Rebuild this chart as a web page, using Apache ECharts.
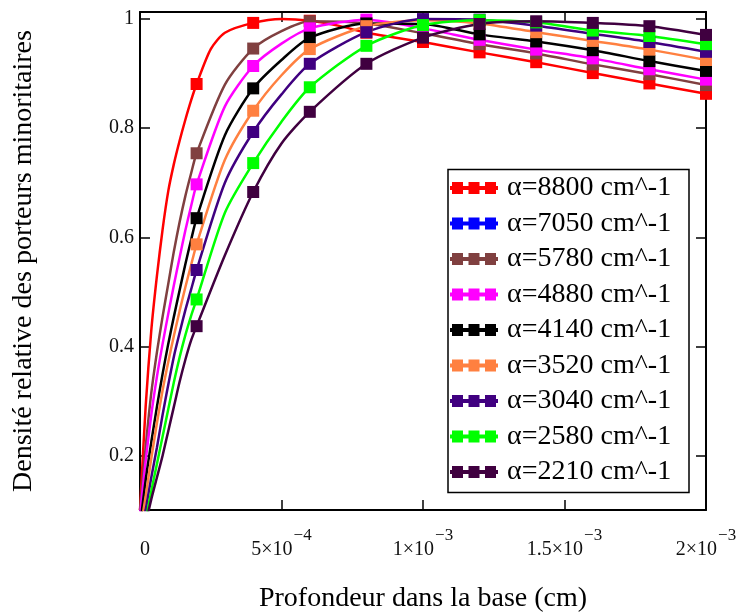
<!DOCTYPE html>
<html>
<head>
<meta charset="utf-8">
<script src="https://cdn.jsdelivr.net/npm/echarts@6/dist/echarts.min.js"></script>
<style>
  html, body { margin: 0; padding: 0; background: #fff; }
  #chart { width: 744px; height: 612px; }
</style>
</head>
<body>
<div id="chart"></div>
<script>
// ---------- data ----------
const xTickValues = [0, 0.0005, 0.001, 0.0015, 0.002];
const xTickLabels = ['0', '5×10^−4', '1×10^−3', '1.5×10^−3', '2×10^−3'];
const yTickValues = [0.2, 0.4, 0.6, 0.8, 1];
const yTickLabels = ['0.2', '0.4', '0.6', '0.8', '1'];

const seriesNames = ['α=8800 cm^-1', 'α=7050 cm^-1', 'α=5780 cm^-1', 'α=4880 cm^-1',
  'α=4140 cm^-1', 'α=3520 cm^-1', 'α=3040 cm^-1', 'α=2580 cm^-1', 'α=2210 cm^-1'];
const seriesColors = ['#ff0000', '#0000ff', '#804040', '#ff00ff', '#000000',
  '#ff8040', '#400080', '#00ff00', '#400040'];

// depths (cm) where the square markers sit
const markerDepths = [0.0002, 0.0004, 0.0006, 0.0008, 0.0010, 0.0012, 0.0014, 0.0016, 0.0018, 0.0020];
// depths of the steep rising part (no markers)
const riseDepths = [0, 0.00002, 0.00004, 0.00006, 0.00008, 0.0001, 0.00012, 0.00014, 0.00016, 0.00018];
// intermediate depths (no markers)
const midDepths = [0.0003, 0.0005];

const marker_8800 = [0.881, 0.993, 0.997, 0.975, 0.958, 0.939, 0.921, 0.901, 0.882, 0.863];
const marker_7050 = [];
const marker_5780 = [0.754, 0.946, 0.996, 0.992, 0.974, 0.954, 0.937, 0.917, 0.899, 0.879];
const marker_4880 = [0.697, 0.914, 0.983, 0.999, 0.983, 0.962, 0.944, 0.928, 0.908, 0.889];
const marker_4140 = [0.635, 0.873, 0.966, 0.992, 0.991, 0.972, 0.959, 0.943, 0.923, 0.905];
const marker_3520 = [0.587, 0.832, 0.945, 0.987, 0.998, 0.992, 0.976, 0.960, 0.944, 0.925];
const marker_3040 = [0.540, 0.793, 0.918, 0.976, 1.000, 0.999, 0.988, 0.973, 0.958, 0.940];
const marker_2580 = [0.486, 0.736, 0.875, 0.951, 0.989, 0.998, 0.994, 0.979, 0.969, 0.954];
const marker_2210 = [0.437, 0.683, 0.830, 0.918, 0.966, 0.991, 0.996, 0.993, 0.987, 0.971];

const rise_8800 = [0.10, 0.29, 0.43, 0.53, 0.615, 0.685, 0.735, 0.777, 0.815, 0.850];
const rise_7050 = [];
const rise_5780 = [0.10, 0.215, 0.315, 0.39, 0.455, 0.515, 0.575, 0.628, 0.675, 0.716];
const rise_4880 = [0.09, 0.19, 0.275, 0.345, 0.405, 0.46, 0.513, 0.563, 0.612, 0.656];
const rise_4140 = [0.07, 0.155, 0.225, 0.29, 0.35, 0.405, 0.455, 0.503, 0.55, 0.594];
const rise_3520 = [0.06, 0.125, 0.195, 0.26, 0.32, 0.372, 0.42, 0.465, 0.508, 0.548];
const rise_3040 = [0.04, 0.10, 0.16, 0.215, 0.275, 0.33, 0.382, 0.425, 0.466, 0.503];
const rise_2580 = [0.02, 0.08, 0.135, 0.185, 0.235, 0.285, 0.335, 0.38, 0.42, 0.455];
const rise_2210 = [0.03, 0.075, 0.12, 0.16, 0.20, 0.245, 0.29, 0.335, 0.375, 0.41];

const mid_8800 = [0.975, 1.000];
const mid_7050 = [];
const mid_5780 = [0.880, 0.978];
const mid_4880 = [0.840, 0.955];
const mid_4140 = [0.787, 0.925];
const mid_3520 = [0.742, 0.897];
const mid_3040 = [0.700, 0.862];
const mid_2580 = [0.645, 0.812];
const mid_2210 = [0.567, 0.772];

// a few extra readings on the 8800 curve around its bend
const extraDepths_8800 = [0.00025, 0.0007];
const extra_8800 = [0.945, 0.988];

const markerSets = [marker_8800, marker_7050, marker_5780, marker_4880, marker_4140, marker_3520, marker_3040, marker_2580, marker_2210];
const riseSets = [rise_8800, rise_7050, rise_5780, rise_4880, rise_4140, rise_3520, rise_3040, rise_2580, rise_2210];
const midSets = [mid_8800, mid_7050, mid_5780, mid_4880, mid_4140, mid_3520, mid_3040, mid_2580, mid_2210];

// ---------- build series ----------
function buildData(i) {
  const pts = [];
  riseSets[i].forEach((v, k) => pts.push({ value: [riseDepths[k], v], symbol: 'none' }));
  midSets[i].forEach((v, k) => pts.push({ value: [midDepths[k], v], symbol: 'none' }));
  if (i === 0) extra_8800.forEach((v, k) => pts.push({ value: [extraDepths_8800[k], v], symbol: 'none' }));
  markerSets[i].forEach((v, k) => pts.push({ value: [markerDepths[k], v] }));
  pts.sort((a, b) => a.value[0] - b.value[0]);
  return pts;
}

const FONT = 'Liberation Serif';

const series = seriesNames.map((name, i) => ({
  type: 'line',
  name: name,
  data: buildData(i),
  color: seriesColors[i],
  itemStyle: { color: seriesColors[i] },
  lineStyle: { width: 2.5, color: seriesColors[i] },
  symbol: 'rect',
  symbolSize: 12,
  smooth: 0.25,
  emphasis: { disabled: true },
  animation: false,
  z: 2
}));

function xLabel(v) {
  const i = Math.round(v / 0.0005);
  const s = xTickLabels[i];
  if (s === undefined) return '';
  if (s.indexOf('^') < 0) return '{z|' + s + '}';
  const parts = s.split('^');
  return '{b|' + parts[0] + '}{s|' + parts[1] + '}';
}
function yLabel(v) {
  let best = 0;
  yTickValues.forEach((t, k) => { if (Math.abs(t - v) < Math.abs(yTickValues[best] - v)) best = k; });
  return yTickLabels[best];
}

const axisLineStyle = { show: true, onZero: false, lineStyle: { color: '#000', width: 2 } };
const tickStyle = { color: '#000', width: 1.5 };

const option = {
  backgroundColor: '#fff',
  animation: false,
  grid: { left: 140, right: 38, top: 12, bottom: 102, containLabel: false, outerBoundsMode: 'none' },
  xAxis: [
    {
      type: 'value', position: 'bottom', min: 0, max: 0.002, interval: 0.0005,
      axisLine: axisLineStyle,
      axisTick: { show: true, inside: true, length: 10, lineStyle: tickStyle },
      splitLine: { show: false },
      axisLabel: {
        margin: 22, formatter: xLabel, color: '#111',
        rich: {
          z: { fontFamily: FONT, fontSize: 20, color: '#111', lineHeight: 23, padding: [12, 0, 0, 10] },
          b: { fontFamily: FONT, fontSize: 20, color: '#111', lineHeight: 23, padding: [12, 0, 0, 0] },
          s: { fontFamily: FONT, fontSize: 17, color: '#111', lineHeight: 19, padding: [0, 0, 16, 1] }
        }
      },
      name: 'Profondeur dans la base (cm)', nameLocation: 'middle', nameGap: 75,
      nameTextStyle: { fontFamily: FONT, fontSize: 28, color: '#000' }
    },
    {
      type: 'value', position: 'top', min: 0, max: 0.002, interval: 0.0005,
      axisLine: axisLineStyle,
      axisTick: { show: true, inside: true, length: 10, lineStyle: tickStyle },
      axisLabel: { show: false }, splitLine: { show: false }
    }
  ],
  yAxis: [
    {
      type: 'value', position: 'left', min: 0.1, max: 1.013,
      axisLine: axisLineStyle,
      axisTick: { show: true, inside: true, length: 10, lineStyle: tickStyle, customValues: yTickValues },
      axisLabel: { customValues: yTickValues, formatter: yLabel, fontFamily: FONT, fontSize: 20, color: '#111', margin: 6 },
      splitLine: { show: false },
      name: 'Densité relative des porteurs minoritaires', nameLocation: 'middle', nameGap: 102,
      nameTextStyle: { fontFamily: FONT, fontSize: 28, color: '#000' }
    },
    {
      type: 'value', position: 'right', min: 0.1, max: 1.013,
      axisLine: axisLineStyle,
      axisTick: { show: true, inside: true, length: 10, lineStyle: tickStyle, customValues: yTickValues },
      axisLabel: { show: false }, splitLine: { show: false }
    }
  ],
  legend: {
    orient: 'vertical', left: 450, top: 173, padding: 0,
    itemWidth: 48, itemHeight: 12, itemGap: 5.5,
    icon: 'path://M0,4H2V0H13V4H18.5V0H29.5V4H35V0H46V4H48V8H46V12H35V8H29.5V12H18.5V8H13V12H2V8H0Z',
    textStyle: { fontFamily: FONT, fontSize: 28, color: '#000', lineHeight: 30, padding: [0, 0, 0, 4] },
    data: seriesNames, selectedMode: false, z: 6
  },
  graphic: [
    {
      type: 'rect', z: 5,
      shape: { x: 448, y: 169.5, width: 241, height: 323 },
      style: { fill: '#fff', stroke: '#000', lineWidth: 1.5 }
    }
  ],
  series: series
};

const chart = echarts.init(document.getElementById('chart'), null, { renderer: 'canvas' });
chart.setOption(option);
</script>
</body>
</html>
